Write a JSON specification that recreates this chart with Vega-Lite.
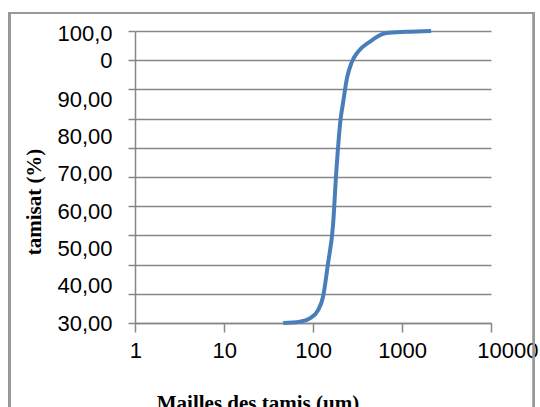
{
  "$schema": "https://vega.github.io/schema/vega-lite/v6.json",
  "width": 356,
  "height": 292,
  "autosize": "none",
  "padding": {"left": 135, "top": 31, "right": 49, "bottom": 84},
  "background": "white",
  "config": {
    "view": {"stroke": null},
    "axis": {
      "labelFont": "Liberation Sans",
      "labelFontSize": 22,
      "labelColor": "#000000",
      "titleFont": "Liberation Serif, Times New Roman, serif",
      "titleFontSize": 21,
      "titleFontWeight": "bold",
      "titleColor": "#000000",
      "domainColor": "#868686",
      "domainWidth": 1.5,
      "tickColor": "#868686",
      "tickWidth": 1.5,
      "gridColor": "#868686",
      "gridWidth": 1.5,
      "gridOpacity": 1
    }
  },
  "data": {
    "values": [
      {"d": 46, "t": 30.0},
      {"d": 70.7, "t": 30.3},
      {"d": 91.6, "t": 31.1},
      {"d": 113.5, "t": 33.1},
      {"d": 129.1, "t": 36.3},
      {"d": 146.9, "t": 44.3},
      {"d": 167.2, "t": 53.5},
      {"d": 182.5, "t": 66.7},
      {"d": 203.9, "t": 79.1},
      {"d": 216.4, "t": 82.7},
      {"d": 239.9, "t": 88.7},
      {"d": 268.7, "t": 92.3},
      {"d": 318.6, "t": 95.0},
      {"d": 431.3, "t": 97.4},
      {"d": 663, "t": 99.5},
      {"d": 1112, "t": 99.8},
      {"d": 2119, "t": 100.0}
    ]
  },
  "layer": [
    {
      "mark": {"type": "rect", "fill": null, "stroke": "#999999", "strokeWidth": 2, "clip": false},
      "encoding": {
        "x": {"datum": 0.0384, "type": "quantitative", "scale": {"type": "log", "domain": [0.99, 10000]}},
        "x2": {"datum": 30400},
        "y": {"datum": 104.3, "type": "quantitative", "scale": {"domain": [30, 100]}, "axis": null},
        "y2": {"datum": 6}
      }
    },
    {
      "mark": {"type": "line", "color": "#4a7ebb", "strokeWidth": 4, "interpolate": "monotone", "clip": false},
      "encoding": {
        "x": {
          "field": "d",
          "type": "quantitative",
          "scale": {"type": "log", "domain": [0.99, 10000]},
          "axis": {
            "values": [1, 10, 100, 1000, 10000],
            "labelExpr": "format(datum.value, 'd')",
            "tickSize": 9,
            "labelPadding": 8,
            "labelFlush": 0.1,
            "labelFlushOffset": 47,
            "labelOverlap": false,
            "grid": false,
            "title": "Mailles des tamis (um)",
            "titleFont": "Liberation Serif, Times New Roman, serif",
            "titleX": 122.5,
            "titleY": 86,
            "titleBaseline": "alphabetic",
            "titleAnchor": "middle",
            "titleAlign": "center"
          }
        },
        "y": {
          "field": "t",
          "type": "quantitative",
          "scale": {"domain": [30, 100]},
          "axis": {
            "values": [30, 37, 44, 51, 58, 65, 72, 79, 86, 93, 100],
            "labels": false,
            "tickSize": 7,
            "grid": true,
            "title": "tamisat (%)",
            "titleFont": "Liberation Serif, Times New Roman, serif",
            "titleX": -94.5,
            "titleY": 170.5,
            "titleAngle": -90,
            "titleBaseline": "alphabetic",
            "titleAlign": "center"
          }
        }
      }
    },
    {
      "mark": {"type": "point", "opacity": 0},
      "encoding": {
        "y": {
          "field": "t",
          "type": "quantitative",
          "scale": {"domain": [30, 108.3]},
          "axis": {
            "orient": "left",
            "values": [30, 40, 50, 60, 70, 80, 90, 107.6],
            "labelExpr": "datum.value > 100 ? ['100,0', '0'] : replace(format(datum.value, '.2f'), '.', ',')",
            "labelLineHeight": 27,
            "labelPadding": 23,
            "tickSize": 0,
            "ticks": false,
            "domain": false,
            "grid": false,
            "labelOverlap": false,
            "labelFlush": false,
            "title": null
          }
        }
      }
    }
  ],
  "resolve": {"scale": {"y": "independent"}}
}
